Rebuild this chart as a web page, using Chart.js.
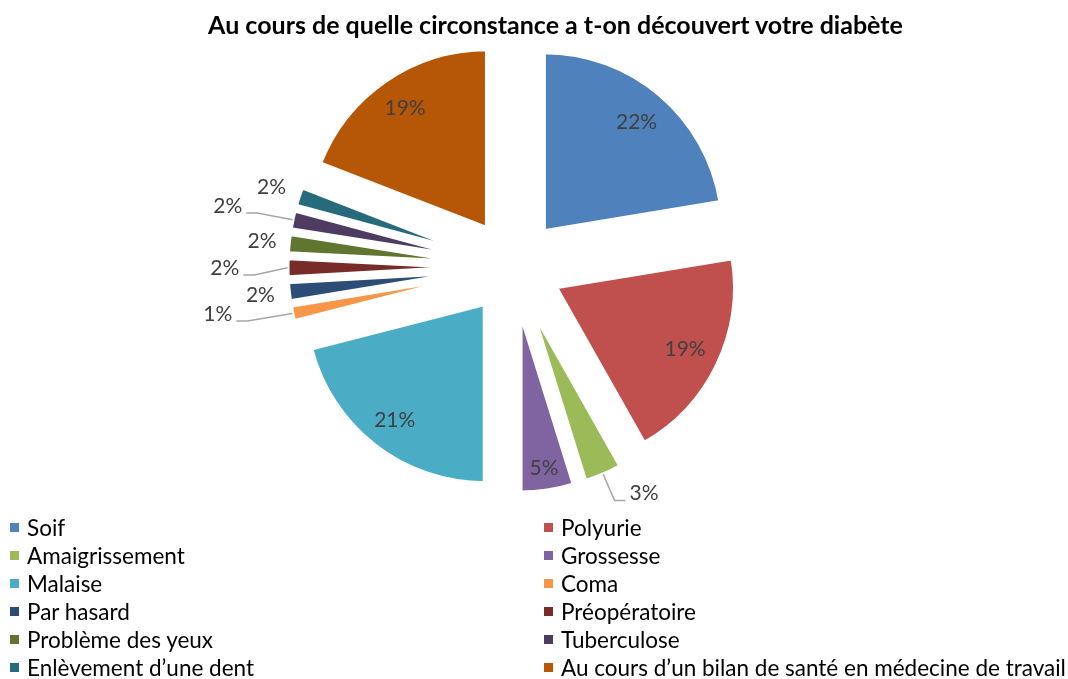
<!DOCTYPE html>
<html lang="fr">
<head>
<meta charset="UTF-8">
<title>Au cours de quelle circonstance a t-on découvert votre diabète</title>
<script src="https://cdn.jsdelivr.net/npm/chart.js"></script>
<style>
  body { margin: 0; background: #fff; font-family: Lato, "Open Sans", sans-serif; }
  #wrap { position: relative; width: 1068px; height: 679px; overflow: hidden; }
  #pie { position: absolute; left: 0; top: 0; }
  #title { position: absolute; left: 0; top: 9px; width: 1111px; text-align: center;
           font-weight: bold; font-size: 25px; line-height: 30px; color: #000; }
  #legend { position: absolute; left: 10px; top: 513px; display: grid;
            grid-template-columns: 534px 520px; }
  .item { height: 28px; display: flex; align-items: center; font-size: 22.5px; color: #000; white-space: nowrap; }
  .item span { display: inline-block; width: 9px; height: 9px; margin-right: 8px; flex: none; }
</style>
</head>
<body>
<div id="wrap">
  <canvas id="pie" width="1068" height="679"></canvas>
  <div id="title">Au cours de quelle circonstance a t-on découvert votre diabète</div>
  <div id="legend"></div>
</div>

<script>
  // categories and their share (%)
  const categories = ['Soif', 'Polyurie', 'Amaigrissement', 'Grossesse', 'Malaise', 'Coma',
    'Par hasard', 'Préopératoire', 'Problème des yeux', 'Tuberculose',
    'Enlèvement d’une dent', 'Au cours d’un bilan de santé en médecine de travail'];
  const shares = [22.4, 19.4, 3.4, 4.8, 21.0, 1.4, 1.7, 1.7, 1.7, 1.7, 1.7, 19.1];
  const colours = ['#4F81BD', '#C0504D', '#9BBB59', '#8064A2', '#4BACC6', '#F79646',
    '#2C4D75', '#772C2A', '#5F7530', '#4D3B62', '#276A7C', '#B65708'];

  // where each percentage label sits: r = fraction of radius from the slice tip
  const labelPlacement = [
    { r: 0.80 }, { r: 0.80 }, { r: 1.20, turn: -8, leader: true }, { r: 0.875 },
    { r: 0.82 }, { r: 1.41, turn: 3.4, leader: true }, { r: 1.16 }, { r: 1.35, leader: true },
    { r: 1.15 }, { r: 1.37, leader: true }, { r: 1.16 }, { r: 0.81 }
  ];
  const EXPLODE = 47;

  // move every slice out from the centre along its bisector
  const explodePlugin = {
    id: 'explode',
    beforeDatasetsDraw(chart) {
      const a = chart.chartArea;
      const cx = (a.left + a.right) / 2, cy = (a.top + a.bottom) / 2;
      chart.getDatasetMeta(0).data.forEach(arc => {
        const mid = (arc.startAngle + arc.endAngle) / 2;
        arc.x = cx + Math.cos(mid) * EXPLODE;
        arc.y = cy + Math.sin(mid) * EXPLODE;
      });
    }
  };

  const percentLabels = {
    id: 'percentLabels',
    afterDatasetsDraw(chart) {
      const ctx = chart.ctx;
      const total = shares.reduce((s, v) => s + v, 0);
      ctx.save();
      ctx.font = '21px Lato, "Open Sans", sans-serif';
      ctx.textAlign = 'center';
      ctx.textBaseline = 'middle';
      chart.getDatasetMeta(0).data.forEach((arc, i) => {
        const p = labelPlacement[i];
        const R = arc.outerRadius;
        const mid = (arc.startAngle + arc.endAngle) / 2;
        const ang = mid + (p.turn || 0) * Math.PI / 180;
        const x = arc.x + Math.cos(ang) * p.r * R;
        const y = arc.y + Math.sin(ang) * p.r * R;
        const text = Math.round(shares[i] / total * 100) + '%';
        if (p.leader) {
          const w = ctx.measureText(text).width;
          const side = Math.cos(ang) < 0 ? 1 : -1;
          const ax = arc.x + Math.cos(mid) * R, ay = arc.y + Math.sin(mid) * R;
          const ex = x + side * (w / 2 + 4), ey = y + 7;
          ctx.beginPath();
          ctx.moveTo(ax, ay);
          ctx.lineTo(ex + side * 11, ey);
          ctx.lineTo(ex, ey);
          ctx.strokeStyle = '#A6A6A6';
          ctx.lineWidth = 1.5;
          ctx.stroke();
        }
        ctx.fillStyle = '#404040';
        ctx.fillText(text, x, y);
      });
      ctx.restore();
    }
  };

  new Chart(document.getElementById('pie'), {
    type: 'pie',
    data: {
      labels: categories,
      datasets: [{
        data: shares,
        backgroundColor: colours,
        borderColor: '#fff',
        borderWidth: 4,
        radius: 179
      }]
    },
    options: {
      responsive: false,
      animation: false,
      layout: { padding: { left: 0, right: 41, top: 40, bottom: 185 } },
      plugins: { legend: { display: false } }
    },
    plugins: [explodePlugin, percentLabels]
  });

  // legend in two columns, as in the original
  const legend = document.getElementById('legend');
  categories.forEach((c, i) => {
    const d = document.createElement('div');
    d.className = 'item';
    d.innerHTML = `<span style="background:${colours[i]}"></span>${c}`;
    legend.appendChild(d);
  });
</script>
</body>
</html>
